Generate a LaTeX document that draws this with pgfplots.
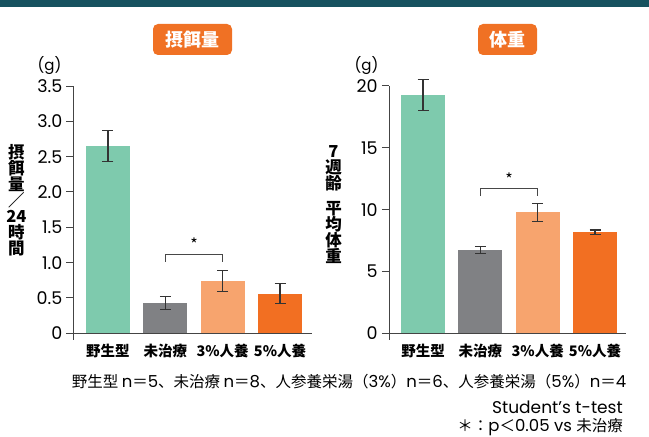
\documentclass[border=0pt]{standalone}
\usepackage{pgfplots}
\pgfplotsset{compat=1.18}
\usepackage{fontspec}
\setmainfont{Noto Sans CJK JP}
\newfontfamily\lat{Poppins}

\definecolor{band}{HTML}{17525F}
\definecolor{badge}{HTML}{F07124}
\definecolor{cWT}{HTML}{7ECAAD}
\definecolor{cUT}{HTML}{808184}
\definecolor{cThree}{HTML}{F7A46E}
\definecolor{cFive}{HTML}{F26F22}
\definecolor{axisgray}{HTML}{444444}
\definecolor{errgray}{HTML}{333333}

\newcommand\fs[1]{\fontsize{#1}{#1}\selectfont}

\pgfplotsset{
  panel/.style={
    scale only axis,
    height=247.3pt,
    ymin=0,
    axis lines*=left,
    axis line style={line width=1pt, axisgray},
    tick align=outside,
    major tick length=7.5pt,
    ytick style={line width=1pt, axisgray},
    xtick={0,1,2,3},
    xtick style={draw=none},
    xticklabels={野生型,未治療,3\%人養,5\%人養},
    xticklabel style={font=\fs{14.5}\bfseries, inner sep=0pt, anchor=north, yshift=-3.5pt},
    yticklabel style={font=\fs{17.5}\lat, inner sep=0pt, anchor=east, xshift=-4pt},
    /pgf/number format/assume math mode=true,
    ybar, bar shift=0pt, bar width=0.767,
    clip=false,
    every axis plot/.append style={draw=none,
      error bars/y dir=both, error bars/y explicit,
      error bars/error bar style={draw=errgray, line width=1.2pt},
      error bars/error mark options={draw=errgray, rotate=90, mark size=5.5pt, line width=1.2pt}},
  },
}

\begin{document}
\begin{tikzpicture}[x=1pt,y=1pt]
\useasboundingbox (0,0) rectangle (649,437);
\fill[band] (0,430) rectangle (649,437);

% panel titles
\fill[badge, rounded corners=5pt] (153,382) rectangle (232,413);
\node[text=white, font=\fs{18}\bfseries] at (192.5,397.5) {摂餌量};
\fill[badge, rounded corners=5pt] (478,382) rectangle (537,413);
\node[text=white, font=\fs{18}\bfseries] at (507.5,397.5) {体重};

% units
\node[font=\fs{15}\lat] at (49.5,371) {(g)};
\node[font=\fs{15}\lat] at (366.5,371) {(g)};

% vertical axis titles
\node[align=center, font=\fontsize{16.5}{16}\selectfont\bfseries] at (16.5,237)
  {摂\\餌\\量\\／\\24\\時\\間};
\node[align=center, font=\fontsize{16.5}{16}\selectfont\bfseries] at (333.5,232.5)
  {7\\週\\齢\\[9pt]平\\均\\体\\重};

% food intake per 24 h
\begin{axis}[panel, at={(74pt,103.7pt)}, anchor=south west,
  width=238pt, xmin=-0.593, xmax=3.558, ymax=3.5,
  ytick={0,0.5,1,1.5,2,2.5,3,3.5},
  yticklabels={0,0.5,1.0,1.5,2.0,2.5,3.0,3.5}]
\addplot[fill=cWT]    coordinates {(0,2.65) +- (0,0.22)};
\addplot[fill=cUT]    coordinates {(1,0.43) +- (0,0.09)};
\addplot[fill=cThree] coordinates {(2,0.74) +- (0,0.145)};
\addplot[fill=cFive]  coordinates {(3,0.56) +- (0,0.14)};
\draw[axisgray, line width=1pt] (axis cs:-0.593,0) -- ++(0pt,-7pt);
\draw[errgray!90, line width=1pt] (axis cs:1,1.01) |- (axis cs:2,1.12) -- (axis cs:2,1.01);
\node[font=\fs{16}] at (axis cs:1.5,1.26) {*};
\end{axis}

% mean body weight at 7 weeks
\begin{axis}[panel, at={(389.3pt,103.7pt)}, anchor=south west,
  width=236.7pt, xmin=-0.588, xmax=3.54, ymax=20,
  ytick={0,5,10,15,20}]
\addplot[fill=cWT]    coordinates {(0,19.27) +- (0,1.25)};
\addplot[fill=cUT]    coordinates {(1,6.73) +- (0,0.27)};
\addplot[fill=cThree] coordinates {(2,9.78) +- (0,0.72)};
\addplot[fill=cFive]  coordinates {(3,8.19) +- (0,0.17)};
\draw[axisgray, line width=1pt] (axis cs:-0.588,0) -- ++(0pt,-7pt);
\draw[errgray!90, line width=1pt] (axis cs:1,11.1) |- (axis cs:2,11.69) -- (axis cs:2,11.1);
\node[font=\fs{16}] at (axis cs:1.5,12.5) {*};
\end{axis}

% footnotes
\node[font=\fs{15.5}] at (349,55)
  {野生型 {\lat\fs{16.5}n}＝{\lat\fs{16.5}5}、未治療 {\lat\fs{16.5}n}＝{\lat\fs{16.5}8}、人参養栄湯（{\lat\fs{16.5}3\%}）{\lat\fs{16.5}n}＝{\lat\fs{16.5}6}、人参養栄湯（{\lat\fs{16.5}5\%}）{\lat\fs{16.5}n}＝{\lat\fs{16.5}4}};
\node[font=\fs{17}\lat, anchor=base east, inner sep=0pt] at (623,23.5) {Student’s t-test};
\node[font=\fs{15.5}, anchor=base east, inner sep=0pt] at (623,5) {＊：{\lat\fs{16.5}p}＜{\lat\fs{16.5}0.05 vs }未治療};
\end{tikzpicture}
\end{document}
